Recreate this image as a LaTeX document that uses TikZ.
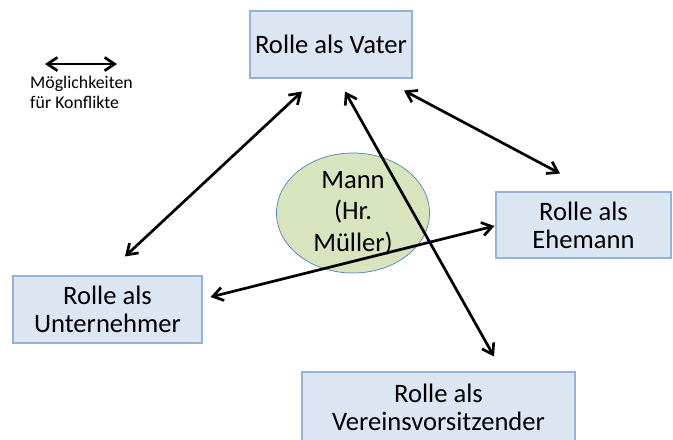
\documentclass[tikz,border=0pt]{standalone}
\usepackage{fontspec}
\setmainfont{Carlito}
\usetikzlibrary{arrows.meta, positioning, calc, shapes.geometric, shadows}
\definecolor{rolleFill}{RGB}{220,230,242}
\definecolor{rolleEdge}{RGB}{149,179,215}
\definecolor{mannFill}{RGB}{215,228,189}
\definecolor{mannEdge}{RGB}{79,129,189}
\tikzset{
    rolle/.style={rectangle, fill=rolleFill, draw=rolleEdge, line width=0.9pt, align=center,
        font=\fontsize{22.7}{24}\selectfont,
        drop shadow={shadow xshift=0pt, shadow yshift=-1.2pt, opacity=0.3, fill=black!60}},
    mann/.style={ellipse, fill=mannFill, draw=mannEdge, line width=0.6pt, align=center,
        inner xsep=0pt, inner ysep=-3pt, minimum width=4.59cm, minimum height=3.6cm,
        font=\fontsize{22.7}{26.8}\selectfont},
    legende/.style={align=left, inner sep=0pt, font=\fontsize{15.2}{17}\selectfont},
    konflikt/.style={{Straight Barb[length=3mm,width=4mm]}-{Straight Barb[length=3mm,width=4mm]}, line width=2.3pt}
}

\begin{document}
\begin{tikzpicture}[x=0.03cm, y=-0.03cm]
    \useasboundingbox (0,0) rectangle (673,439);

    % Person in the middle
    \node[mann] (mann) at (353,213) {Mann\\(Hr.\\Müller)};

    % The four roles
    \node[rolle, minimum width=4.86cm, minimum height=2.01cm] (vater) at (331,44.5) {Rolle als Vater};
    \node[rolle, minimum width=5.25cm, minimum height=1.98cm] (ehemann) at (583.5,225) {Rolle als\\Ehemann};
    \node[rolle, minimum width=5.67cm, minimum height=2.01cm] (unternehmer) at (107.5,309.5) {Rolle als\\Unternehmer};
    \node[rolle, minimum width=8.19cm, minimum height=2.1cm] (verein) at (438.5,407) {Rolle als\\Vereinsvorsitzender};

    % Legend
    \node[legende, anchor=west] (legende) at (30,92.5) {Möglichkeiten\\für Konflikte};
    \draw[konflikt] ($(legende.north west)+(15,-12)$) -- ($(legende.north west)+(87,-12)$);

    % Conflicts between the roles
    \draw[konflikt] ($(vater.south)+(-29,13)$) -- ($(unternehmer.north)+(17.5,-19)$);
    \draw[konflikt] ($(vater.south)+(14,13)$) -- ($(verein.north)+(55.5,-15)$);
    \draw[konflikt] ($(vater.south)+(73,12)$) -- ($(ehemann.north)+(-23.5,-18)$);
    \draw[konflikt] ($(unternehmer.east)+(8,-12.5)$) -- ($(ehemann.west)+(-1,1)$);
\end{tikzpicture}
\end{document}
